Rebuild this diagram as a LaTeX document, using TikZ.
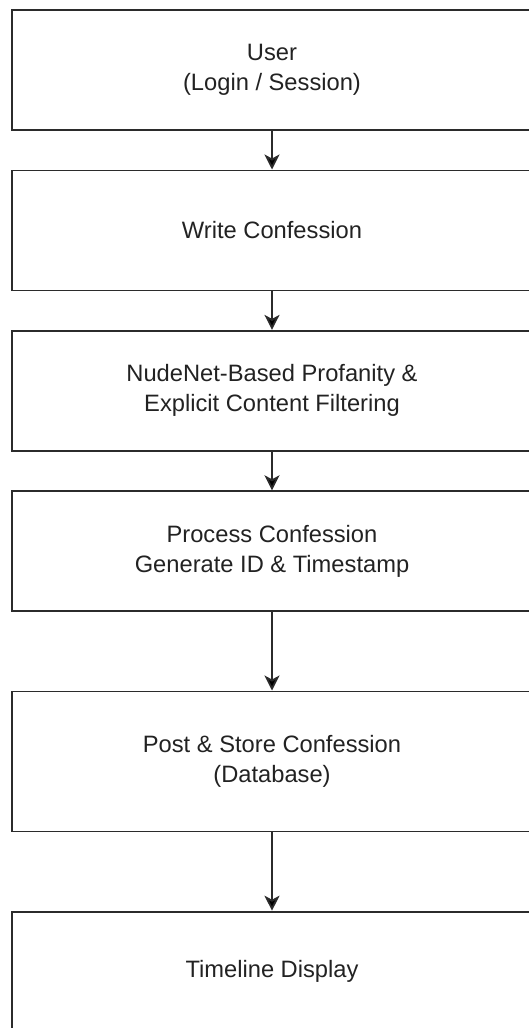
\documentclass[tikz,border=0pt]{standalone}
\usepackage{fontspec}
\setmainfont{Liberation Sans}
\usepackage{tikz}
\usetikzlibrary{arrows.meta,positioning}
\definecolor{linegray}{HTML}{2B2B2B}
\definecolor{textgray}{HTML}{222222}

\tikzset{
  stepbox/.style={draw=linegray, line width=1.8pt, rectangle, minimum width=520pt,
    minimum height=120pt, align=center, text=textgray,
    font=\fontsize{23.7}{30}\selectfont}
}

\begin{document}
\begin{tikzpicture}[>={Stealth[length=15pt,width=15pt,inset=4pt]},line width=1.8pt,node distance=38.6pt]
  \useasboundingbox (0pt,0pt) rectangle (528pt,-1028pt);
  \node[stepbox] (user) at (272pt,-70pt) {User\\(Login / Session)};
  \node[stepbox] (write) [below=of user] {Write Confession};
  \node[stepbox] (filter) [below=of write] {NudeNet-Based Profanity \&\\Explicit Content Filtering};
  \node[stepbox] (process) [below=of filter] {Process Confession\\Generate ID \& Timestamp};
  \node[stepbox,minimum height=140pt] (store) [below=78.4pt of process] {Post \& Store Confession\\(Database)};
  \node[stepbox] (timeline) [below=78.4pt of store] {Timeline Display};

  \path[->,draw=linegray] (user) edge (write)
        (write) edge (filter)
        (filter) edge (process)
        (process) edge (store)
        (store) edge (timeline);
\end{tikzpicture}
\end{document}
